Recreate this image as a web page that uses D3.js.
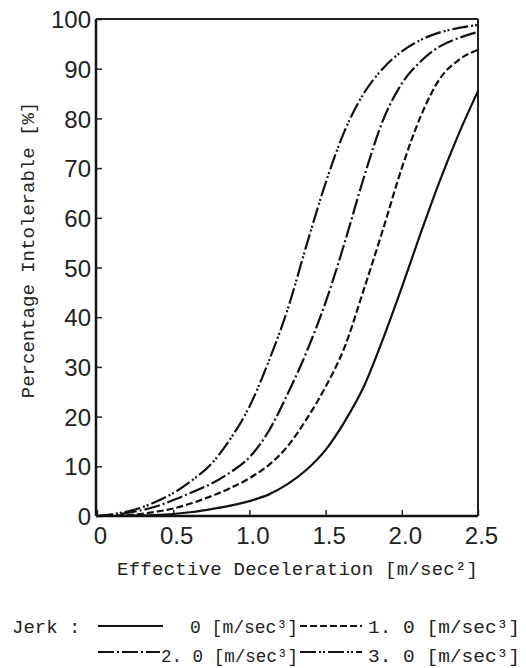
<!DOCTYPE html>
<html>
<head>
<meta charset="utf-8">
<script src="https://cdn.jsdelivr.net/npm/d3@7"></script>
<style>
  body { margin: 0; background: #fff; }
  .tick-label { font-family: "Liberation Sans Narrow", "Arial Narrow", "Liberation Sans", sans-serif; font-size: 24px; fill: #222; }
  .mono { font-family: "Liberation Mono", "DejaVu Sans Mono", monospace; font-size: 19px; fill: #222; }
</style>
</head>
<body>
<div id="chart"></div>
<script>
// Effective deceleration [m/sec^2]
const decel = [0, 0.125, 0.25, 0.375, 0.5, 0.625, 0.75, 0.875, 1.0, 1.125, 1.25,
               1.375, 1.5, 1.625, 1.75, 1.875, 2.0, 2.125, 2.25, 2.375, 2.5];

// Percentage intolerable [%] for each jerk level
const jerk0 = [0, 0, 0.1, 0.2, 0.4, 0.8, 1.4, 2.1, 3.0, 4.3, 6.4,
               9.3, 13.3, 19, 26, 35.5, 46, 57, 67.5, 77, 85.5];
const jerk1 = [0, 0.1, 0.3, 0.8, 1.5, 2.6, 4.0, 5.6, 7.6, 10.2, 14,
               19.5, 26, 34, 45.5, 57.5, 70, 80.5, 88, 91.8, 93.8];
const jerk2 = [0, 0.3, 0.9, 1.8, 3.2, 4.8, 6.5, 8.8, 11.8, 17, 24.5,
               33, 43, 55, 68, 79.5, 87, 91.5, 94.5, 96.2, 97.4];
const jerk3 = [0, 0.5, 1.3, 2.7, 4.6, 7.2, 10.5, 15.5, 22, 31, 41.5,
               54.5, 67, 77.5, 85, 90, 93.5, 95.8, 97.3, 98.2, 98.8];

const xTicks = [0, 0.5, 1.0, 1.5, 2.0, 2.5];
const yTicks = [0, 10, 20, 30, 40, 50, 60, 70, 80, 90, 100];

const series = [
  {label: "0 [m/sec³]", values: jerk0, dash: null},
  {label: "1. 0 [m/sec³]", values: jerk1, dash: "7,3"},
  {label: "2. 0 [m/sec³]", values: jerk2, dash: "16,3,2,3"},
  {label: "3. 0 [m/sec³]", values: jerk3, dash: "16,3,2,2,2,3"}
];

const W = 526, H = 668;
const plot = {left: 96, right: 478, top: 19, bottom: 516};

const svg = d3.select("#chart").append("svg")
  .attr("width", W)
  .attr("height", H);

const x = d3.scaleLinear().domain([0, 2.5]).range([plot.left + 1, plot.right]);
const y = d3.scaleLinear().domain([0, 100]).range([plot.bottom, plot.top]);

// frame (top and right)
svg.append("line")
  .attr("x1", plot.left).attr("x2", plot.right)
  .attr("y1", plot.top).attr("y2", plot.top)
  .attr("stroke", "#222").attr("stroke-width", 2);
svg.append("line")
  .attr("x1", plot.right).attr("x2", plot.right)
  .attr("y1", plot.top).attr("y2", plot.bottom)
  .attr("stroke", "#222").attr("stroke-width", 2);

// axes with inward ticks
const xAxis = svg.append("g")
  .attr("transform", `translate(0,${plot.bottom})`)
  .call(d3.axisBottom(x).tickValues(xTicks).tickSizeInner(-6).tickSizeOuter(0)
    .tickFormat(d => d === 0 ? "0" : d3.format(".1f")(d)));
xAxis.select(".domain").attr("stroke", "#111").attr("stroke-width", 2.5)
  .attr("d", `M${plot.left},0H${plot.right}`);
xAxis.selectAll(".tick line").attr("stroke", "#222").attr("stroke-width", 1.5);
xAxis.selectAll(".tick text")
  .attr("class", "tick-label")
  .attr("y", 28)
  .attr("dy", 0)
  .attr("dx", 3);

const yAxis = svg.append("g")
  .attr("transform", `translate(${plot.left},0)`)
  .call(d3.axisLeft(y).tickValues(yTicks).tickSizeInner(-6).tickSizeOuter(0));
yAxis.select(".domain").attr("stroke", "#111").attr("stroke-width", 2.5)
  .attr("d", `M0,${plot.top}V${plot.bottom}`);
yAxis.selectAll(".tick line").attr("stroke", "#222").attr("stroke-width", 1.5);
yAxis.selectAll(".tick text")
  .attr("class", "tick-label")
  .attr("x", -5)
  .attr("dy", "0.36em");
svg.selectAll("g").attr("font-size", null).attr("font-family", null);

// curves
const line = d3.line()
  .x((d, i) => x(decel[i]))
  .y(d => y(d))
  .curve(d3.curveMonotoneX);

svg.append("g").selectAll("path")
  .data(series)
  .join("path")
  .attr("fill", "none")
  .attr("stroke", "#111")
  .attr("stroke-width", 2.2)
  .attr("stroke-dasharray", d => d.dash)
  .attr("d", d => line(d.values));

// axis titles
svg.append("text")
  .attr("class", "mono")
  .attr("x", 117)
  .attr("y", 575)
  .attr("textLength", 361)
  .attr("lengthAdjust", "spacing")
  .text("Effective Deceleration [m/sec²]");

svg.append("text")
  .attr("class", "mono")
  .attr("transform", "translate(34,250) rotate(-90)")
  .attr("text-anchor", "middle")
  .text("Percentage Intolerable [%]");

// legend
svg.append("text").attr("class", "mono").attr("x", 12).attr("y", 633).text("Jerk :");

const legendPos = [
  {lx: 98, lx2: 163, ly: 626, tx: 190, tw: 108, ty: 633},
  {lx: 300, lx2: 362, ly: 626, tx: 368, tw: 152, ty: 633},
  {lx: 98, lx2: 160, ly: 652, tx: 161, tw: 137, ty: 662},
  {lx: 300, lx2: 362, ly: 652, tx: 368, tw: 152, ty: 662}
];

series.forEach((s, i) => {
  const p = legendPos[i];
  svg.append("line")
    .attr("x1", p.lx).attr("x2", p.lx2)
    .attr("y1", p.ly).attr("y2", p.ly)
    .attr("stroke", "#111").attr("stroke-width", 2)
    .attr("stroke-dasharray", s.dash);
  svg.append("text").attr("class", "mono")
    .attr("x", p.tx).attr("y", p.ty)
    .attr("textLength", p.tw)
    .attr("lengthAdjust", "spacingAndGlyphs")
    .text(s.label);
});
</script>
</body>
</html>
